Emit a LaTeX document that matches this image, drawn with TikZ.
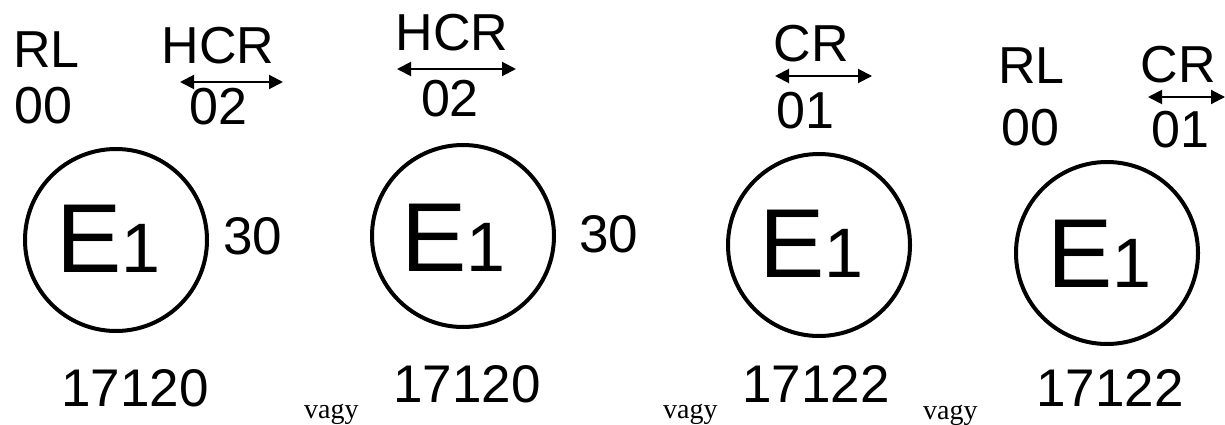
\documentclass[tikz,border=0pt]{standalone}
\usepackage{fontspec}
\setmainfont{Liberation Sans}
\newfontfamily\vagyfont{Liberation Serif}
\usetikzlibrary{arrows.meta}

\newcommand{\eone}{E{\fontsize{70}{70}\selectfont 1}}

\tikzset{
  seal/.style={circle,draw,line width=4pt,minimum size=182pt,inner sep=0pt},
  etxt/.style={inner sep=0pt,anchor=base west,font=\fontsize{98}{98}\selectfont},
  lbl/.style={inner sep=0pt,font=\fontsize{52}{52}\selectfont},
  num/.style={inner sep=0pt,font=\fontsize{53}{53}\selectfont},
  orword/.style={inner sep=0pt,anchor=base west,font=\vagyfont\fontsize{28}{28}\selectfont},
  both/.style={line width=2pt,{Triangle[length=14pt,width=14pt]}-{Triangle[length=14pt,width=14pt]}}
}

\begin{document}
\begin{tikzpicture}[x=1pt,y=-1pt]
  \useasboundingbox (0,0) rectangle (1225,425);
  % RL + HCR
  \node[lbl] (rl1) at (46.5,49.5) {RL};
  \node[lbl] (n1) at (43.5,105.5) {00};
  \node[lbl] (hcr1) at (218,45.5) {HCR};
  \coordinate (a1l) at (180,82);
  \coordinate (a1r) at (283,82);
  \draw[both] (a1l) -- (a1r);
  \node[lbl] (c1) at (218.5,106.5) {02};
  \node[seal] (s1) at (116,240) {};
  \node[etxt] (e1) at (56,272) {\eone};
  \node[num] (t1) at (252.5,236) {30};
  \node[num] (k1) at (135,388) {17120};
  \node[orword] (or1) at (304,418) {vagy};
  % HCR
  \node[lbl] (hcr2) at (452,33) {HCR};
  \coordinate (a2l) at (397,69);
  \coordinate (a2r) at (516,69);
  \draw[both] (a2l) -- (a2r);
  \node[lbl] (c2) at (450,99) {02};
  \node[seal] (s2) at (463,236) {};
  \node[etxt] (e2) at (401,271) {\eone};
  \node[num] (t2) at (608.5,234) {30};
  \node[num] (k2) at (467,384) {17120};
  \node[orword] (or2) at (663,418) {vagy};
  % CR
  \node[lbl] (cr3) at (811.5,44) {CR};
  \coordinate (a3l) at (775,76);
  \coordinate (a3r) at (872,76);
  \draw[both] (a3l) -- (a3r);
  \node[lbl] (c3) at (805.5,110.5) {01};
  \node[seal] (s3) at (819,245) {};
  \node[etxt] (e3) at (759,277) {\eone};
  \node[num] (k3) at (816,384) {17122};
  \node[orword] (or3) at (923,419) {vagy};
  % RL + CR
  \node[lbl] (rl4) at (1031.5,66) {RL};
  \node[lbl] (n4) at (1030,127.5) {00};
  \node[lbl] (cr4) at (1178,65) {CR};
  \coordinate (a4l) at (1148,97);
  \coordinate (a4r) at (1225,97);
  \draw[both] (a4l) -- (a4r);
  \node[lbl] (c4) at (1180,130) {01};
  \node[seal] (s4) at (1107,253) {};
  \node[etxt] (e4) at (1047,287) {\eone};
  \node[num] (k4) at (1110,387.5) {17122};
\end{tikzpicture}
\end{document}
